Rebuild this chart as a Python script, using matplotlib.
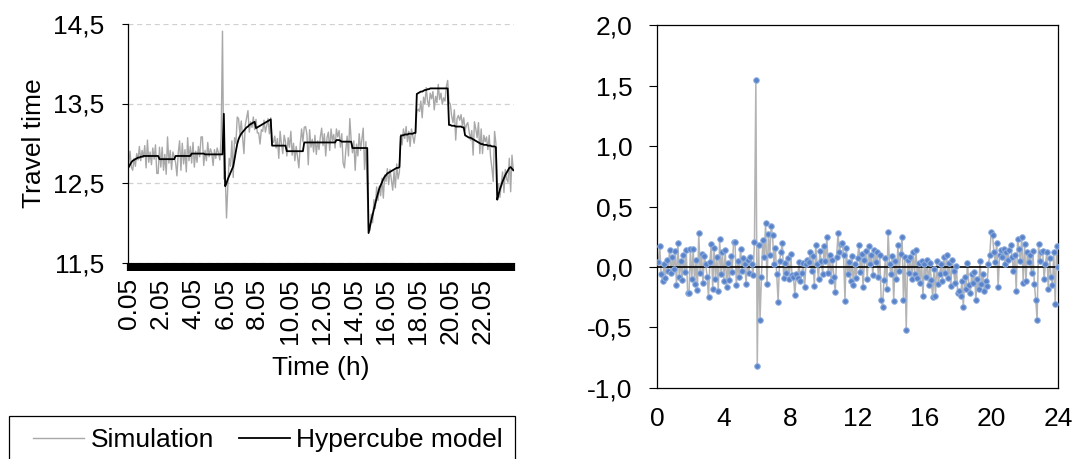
import numpy as np
import matplotlib
matplotlib.use("Agg")
import matplotlib.pyplot as plt
from matplotlib.patches import Rectangle
from matplotlib.lines import Line2D

plt.rcParams['font.family'] = ['Liberation Sans', 'DejaVu Sans']

# ---- data: 5-minute values from 0.05 to 24.00 (one row per hour) ----
model = [
    12.70, 12.73, 12.76, 12.78, 12.79, 12.80, 12.81, 12.82, 12.82, 12.83, 12.83, 12.84,
    12.84, 12.84, 12.84, 12.84, 12.84, 12.84, 12.84, 12.84, 12.84, 12.84, 12.84, 12.80,
    12.80, 12.80, 12.80, 12.80, 12.80, 12.80, 12.80, 12.80, 12.80, 12.80, 12.80, 12.84,
    12.84, 12.84, 12.84, 12.84, 12.84, 12.84, 12.84, 12.84, 12.84, 12.84, 12.84, 12.87,
    12.87, 12.87, 12.87, 12.87, 12.87, 12.87, 12.87, 12.87, 12.87, 12.86, 12.86, 12.86,
    12.86, 12.86, 12.86, 12.86, 12.86, 12.86, 12.86, 12.86, 12.86, 12.86, 12.86, 13.37,
    12.46, 12.50, 12.55, 12.59, 12.63, 12.67, 12.71, 12.80, 12.90, 12.99, 13.05, 13.09,
    13.12, 13.14, 13.16, 13.18, 13.20, 13.21, 13.23, 13.24, 13.25, 13.26, 13.27, 13.19,
    13.20, 13.21, 13.22, 13.23, 13.24, 13.25, 13.26, 13.27, 13.28, 13.29, 13.30, 12.97,
    12.97, 12.97, 12.97, 12.97, 12.97, 12.97, 12.97, 12.97, 12.97, 12.97, 12.90, 12.90,
    12.90, 12.90, 12.90, 12.90, 12.90, 12.90, 12.90, 12.90, 12.90, 12.90, 12.90, 13.01,
    13.01, 13.01, 13.01, 13.01, 13.01, 13.01, 13.01, 13.01, 13.01, 13.01, 13.01, 13.01,
    13.01, 13.01, 13.01, 13.01, 13.01, 13.01, 13.01, 13.01, 13.01, 13.01, 13.01, 13.04,
    13.04, 13.04, 13.03, 13.02, 13.02, 13.02, 13.02, 13.02, 13.02, 13.02, 13.02, 12.94,
    12.94, 12.94, 12.94, 12.94, 12.94, 12.94, 12.94, 12.94, 12.94, 12.94, 12.94, 11.87,
    11.95, 12.03, 12.10, 12.17, 12.24, 12.31, 12.37, 12.43, 12.47, 12.51, 12.55, 12.58,
    12.60, 12.62, 12.63, 12.64, 12.65, 12.66, 12.67, 12.68, 12.69, 12.69, 12.70, 13.09,
    13.10, 13.10, 13.11, 13.11, 13.11, 13.12, 13.12, 13.12, 13.12, 13.13, 13.13, 13.62,
    13.63, 13.64, 13.65, 13.65, 13.66, 13.67, 13.67, 13.68, 13.68, 13.69, 13.69, 13.69,
    13.69, 13.69, 13.69, 13.69, 13.69, 13.69, 13.69, 13.69, 13.69, 13.69, 13.69, 13.23,
    13.23, 13.22, 13.22, 13.22, 13.21, 13.21, 13.21, 13.21, 13.21, 13.20, 13.20, 13.10,
    13.09, 13.08, 13.07, 13.07, 13.06, 13.05, 13.04, 13.03, 13.02, 13.01, 13.00, 12.99,
    12.99, 12.98, 12.98, 12.98, 12.97, 12.97, 12.97, 12.96, 12.96, 12.96, 12.95, 12.29,
    12.36, 12.42, 12.47, 12.52, 12.56, 12.60, 12.63, 12.66, 12.69, 12.70, 12.68, 12.66,
]

# simulation minus hypercube model (right panel)
residual = [
    0.04, 0.17, -0.06, -0.12, 0.02, -0.09, 0.06, -0.03, 0.14, -0.05, 0.08, -0.02,
    0.13, -0.15, 0.20, -0.08, 0.05, -0.11, 0.10, -0.04, 0.14, -0.22, -0.22, 0.15,
    -0.10, 0.15, -0.14, 0.06, -0.19, 0.28, -0.05, 0.11, -0.13, 0.09, 0.02, -0.08,
    -0.25, 0.04, 0.19, -0.18, 0.16, -0.10, 0.08, -0.20, 0.23, -0.06, 0.12, -0.12,
    0.14, -0.17, 0.03, -0.11, 0.09, -0.04, 0.21, 0.21, -0.15, 0.05, -0.08, 0.15,
    -0.03, 0.07, 0.02, -0.14, 0.06, -0.05, 0.08, 0.02, -0.07, 0.21, 1.55, -0.82,
    0.18, -0.44, -0.08, 0.22, 0.08, 0.36, -0.14, 0.27, 0.10, 0.34, 0.26, 0.02,
    0.16, -0.06, -0.29, 0.05, 0.12, 0.20, -0.09, 0.03, -0.05, 0.07, -0.10, 0.11,
    -0.07, -0.08, -0.23, -0.06, -0.09, 0.04, -0.12, -0.05, 0.03, -0.17, 0.02, 0.06,
    0.04, 0.12, -0.03, 0.09, -0.16, 0.18, 0.02, -0.10, 0.13, 0.05, -0.06, 0.17,
    0.05, 0.25, -0.05, 0.10, -0.12, 0.06, -0.08, -0.21, 0.08, 0.28, 0.12, 0.19,
    0.20, 0.10, -0.28, 0.16, -0.06, 0.04, -0.12, 0.09, -0.15, 0.02, -0.09, 0.07,
    0.18, -0.04, 0.11, -0.17, 0.06, 0.13, -0.10, 0.17, 0.02, 0.10, -0.07, 0.14,
    0.04, 0.12, -0.08, 0.10, -0.27, -0.33, -0.11, 0.07, -0.18, 0.29, 0.02, -0.06,
    0.09, -0.28, 0.05, -0.10, 0.18, -0.03, 0.11, 0.25, -0.27, 0.08, -0.52, 0.06,
    -0.05, 0.08, -0.10, 0.12, -0.06, 0.14, -0.09, 0.03, -0.13, 0.05, -0.24, 0.02,
    -0.08, 0.06, -0.15, 0.03, -0.11, -0.25, -0.02, -0.24, 0.05, -0.14, -0.06, 0.02,
    -0.12, 0.08, -0.05, 0.10, -0.09, 0.03, -0.16, 0.06, -0.03, -0.13, 0.01, -0.22,
    -0.20, -0.24, -0.12, -0.33, -0.08, -0.18, 0.03, -0.15, -0.22, -0.06, -0.13, -0.04,
    -0.27, -0.10, -0.18, 0.05, -0.14, -0.06, -0.20, -0.12, -0.16, 0.02, 0.10, 0.29,
    0.26, 0.12, 0.04, 0.20, -0.17, 0.10, 0.14, 0.08, 0.15, 0.02, 0.12, 0.06,
    0.14, 0.18, 0.08, -0.03, 0.10, -0.20, 0.23, 0.15, 0.05, 0.25, -0.13, 0.19,
    -0.12, 0.12, 0.04, 0.10, -0.05, 0.13, -0.14, -0.27, -0.44, 0.19, 0.05, 0.12,
    0.13, -0.10, 0.02, 0.12, -0.18, 0.07, -0.08, -0.15, 0.12, -0.31, 0.17, 0.00,
]

left_xtick_labels = ['0.05', '2.05', '4.05', '6.05', '8.05', '10.05',
                     '12.05', '14.05', '16.05', '18.05', '20.05', '22.05']
left_yticks = [11.5, 12.5, 13.5, 14.5]
left_ytick_labels = ['11,5', '12,5', '13,5', '14,5']
right_xticks = [0, 4, 8, 12, 16, 20, 24]
right_yticks = [-1.0, -0.5, 0.0, 0.5, 1.0, 1.5, 2.0]
right_ytick_labels = ['-1,0', '-0,5', '0,0', '0,5', '1,0', '1,5', '2,0']

model = np.array(model)
residual = np.array(residual)
simulation = model + residual          # residual = simulation - model
n = len(model)
idx = np.arange(n)                     # category positions
hours = (idx + 1) / 12.0               # 5-minute steps in hours

FS = 19
W, H = 1076, 459
fig = plt.figure(figsize=(W / 100, H / 100), dpi=100)

# ================= left panel =================
ax1 = fig.add_axes([128 / W, 1 - 262.5 / H, 386 / W, 238.5 / H])
ax1.plot(idx, simulation, color='#A8A8A8', lw=1.0, zorder=2)
ax1.plot(idx, model, color='black', lw=1.3, zorder=3)
ax1.set_xlim(-0.5, n - 0.5)
ax1.set_ylim(11.5, 14.5)
ax1.set_yticks(left_yticks)
ax1.set_yticklabels(left_ytick_labels)
ax1.set_xticks(idx[::24])
ax1.set_xticklabels(left_xtick_labels, rotation=90)
# one tick per 5-minute category -> reads as a solid black band
ax1.set_xticks(np.arange(-0.5, n, 1), minor=True)
ax1.tick_params(axis='x', which='both', direction='out', length=6, width=1.6,
                pad=5, labelsize=FS, color='black')
ax1.tick_params(axis='y', direction='out', length=4.3, width=0.8, pad=12.5, labelsize=FS)
ax1.spines['top'].set_visible(False)
ax1.spines['right'].set_visible(False)
ax1.spines['left'].set_linewidth(0.9)
ax1.yaxis.grid(True, color='#D0D0D0', linestyle=(0, (4, 3)), lw=0.9)
ax1.set_axisbelow(True)
ax1.set_ylabel('Travel time', fontsize=FS, labelpad=5)
ax1.set_xlabel('Time (h)', fontsize=FS, labelpad=9)

# legend under the left panel, frame running off the bottom edge
handles = [Line2D([], [], color='#A8A8A8', lw=1.0),
           Line2D([], [], color='black', lw=1.3)]
fig.legend(handles, ['Simulation', 'Hypercube model'], loc='center left',
           bbox_to_anchor=(33 / W, 1 - 440 / H), ncol=2, frameon=False,
           fontsize=FS, borderpad=0, borderaxespad=0, handlelength=1.93,
           handletextpad=0.25, columnspacing=0.95)
fig.add_artist(Rectangle((9 / W, -0.05), 506 / W, 0.05 + (H - 416) / H,
                         transform=fig.transFigure, fill=False,
                         edgecolor='black', lw=0.9, clip_on=False))

# ================= right panel =================
ax2 = fig.add_axes([657 / W, 1 - 387.7 / H, 401 / W, 362.4 / H])
ax2.plot(hours, residual, color='#B4B4B4', lw=1.1, zorder=2)
ax2.axhline(0, color='black', lw=1.2, zorder=2.5)
ax2.plot(hours, residual, linestyle='none', marker='o', markersize=4.0,
         markerfacecolor='#5A82C8', markeredgecolor='#8FB0E0', mew=0.7, zorder=3)
ax2.set_xlim(0, 24)
ax2.set_ylim(-1.0, 2.0)
ax2.set_xticks(right_xticks)
ax2.set_yticks(right_yticks)
ax2.set_yticklabels(right_ytick_labels)
ax2.tick_params(axis='x', length=0, pad=14, labelsize=FS)
ax2.tick_params(axis='y', direction='out', length=5.7, width=0.8, pad=12, labelsize=FS)
for s in ax2.spines.values():
    s.set_linewidth(0.9)

fig.savefig('out.png', dpi=100)
